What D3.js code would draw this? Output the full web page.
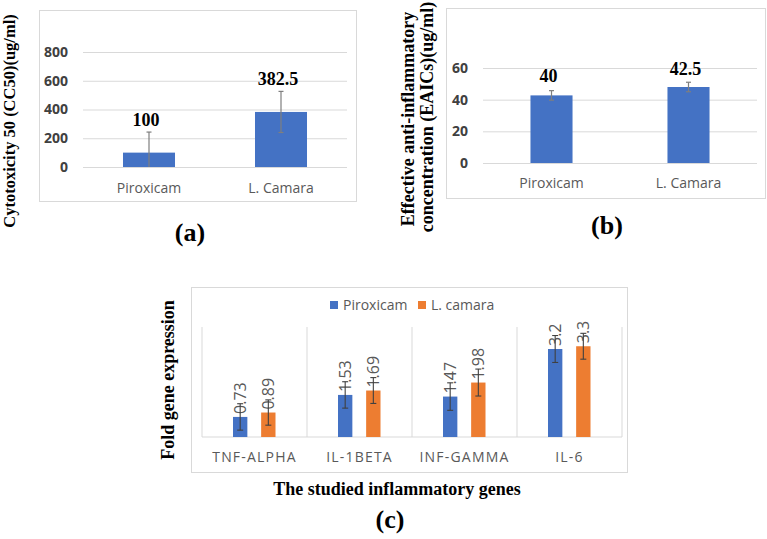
<!DOCTYPE html>
<html><head><meta charset="utf-8">
<script src="https://cdn.jsdelivr.net/npm/d3@7"></script>
<style>body{margin:0;background:#fff}svg{display:block}</style>
</head><body>
<svg id="c" width="767" height="539"></svg>
<script>
// ---- Data ----
const catsAB = ["Piroxicam", "L. Camara"];
const cc50Values = [100, 383];
const cc50Errors = [143, 143];
const cc50Labels = ["100", "382.5"];
const cc50Ticks = [0, 200, 400, 600, 800];

const eaicValues = [42.7, 48];
const eaicErrors = [3, 3];
const eaicLabels = ["40", "42.5"];
const eaicTicks = [0, 20, 40, 60];

const genes = ["TNF-ALPHA", "IL-1BETA", "INF-GAMMA", "IL-6"];
const seriesNames = ["Piroxicam", "L. camara"];
const piroxicamFold = [0.73, 1.53, 1.47, 3.2];
const camaraFold = [0.89, 1.69, 1.98, 3.3];
const piroxicamErr = [0.48, 0.48, 0.5, 0.49];
const camaraErr = [0.46, 0.47, 0.49, 0.47];
const foldLabelsP = ["0.73", "1.53", "1.47", "3.2"];
const foldLabelsC = ["0.89", "1.69", "1.98", "3.3"];

const BLUE = "#4472C4", ORANGE = "#ED7D31", GRID = "#d9d9d9", TXT = "#595959";
const SERIF = "'Liberation Serif','Times New Roman',serif";
const SANS = "'Open Sans','Segoe UI',sans-serif";

const svg = d3.select("#c");

function simplePanel(o) {
  const g = svg.append("g");
  g.append("rect").attr("x", o.box[0]).attr("y", o.box[1]).attr("width", o.box[2]).attr("height", o.box[3])
    .attr("fill", "#fff").attr("stroke", GRID).attr("stroke-width", 1);
  const x = d3.scaleBand().domain(o.cats).range([o.x0, o.x1]);
  const y = d3.scaleLinear().domain([0, o.ticks[o.ticks.length - 1]]).range([o.y0, o.y1]);
  const ax = g.append("g").attr("transform", `translate(${o.x0},0)`)
    .call(d3.axisLeft(y).tickValues(o.ticks).tickSize(-(o.x1 - o.x0)).tickPadding(15));
  ax.select(".domain").remove();
  ax.selectAll(".tick line").attr("stroke", GRID);
  ax.selectAll(".tick text").attr("font-family", SANS).attr("font-size", 14).attr("font-weight", 700).attr("fill", "#404040");
  const bw = x.bandwidth() * o.barFrac;
  const cx = d => x(d) + x.bandwidth() / 2;
  g.selectAll(".bar").data(o.cats).join("rect")
    .attr("x", d => cx(d) - bw / 2).attr("width", bw)
    .attr("y", (d, i) => y(o.values[i])).attr("height", (d, i) => y(0) - y(o.values[i]))
    .attr("fill", BLUE);
  o.cats.forEach((d, i) => {
    const hi = y(o.values[i] + o.errors[i]), lo = y(Math.max(0, o.values[i] - o.errors[i]));
    g.append("line").attr("x1", cx(d)).attr("x2", cx(d)).attr("y1", hi).attr("y2", lo).attr("stroke", "#7f7f7f").attr("stroke-width", 1.2);
    g.append("line").attr("x1", cx(d) - 2.5).attr("x2", cx(d) + 2.5).attr("y1", hi).attr("y2", hi).attr("stroke", "#7f7f7f").attr("stroke-width", 1.2);
    if (o.values[i] - o.errors[i] > 0)
      g.append("line").attr("x1", cx(d) - 2.5).attr("x2", cx(d) + 2.5).attr("y1", lo).attr("y2", lo).attr("stroke", "#7f7f7f").attr("stroke-width", 1.2);
    g.append("text").attr("x", cx(d) - 3).attr("y", hi - o.labelGap[i]).attr("text-anchor", "middle")
      .attr("font-family", SERIF).attr("font-weight", 700).attr("font-size", 18).attr("fill", "#000").text(o.labels[i]);
    g.append("text").attr("x", cx(d)).attr("y", y(0) + o.catOff).attr("text-anchor", "middle")
      .attr("font-family", SANS).attr("font-size", 14).attr("fill", TXT).text(d);
  });
  o.title.forEach((t, k) => {
    g.append("text").attr("transform", `translate(${o.titleX[k]},${o.titleY[k]}) rotate(-90)`).attr("text-anchor", "middle")
      .attr("font-family", SERIF).attr("font-weight", 700).attr("font-size", o.titleSize).attr("fill", "#000").text(t);
  });
  g.append("text").attr("x", o.tag[0]).attr("y", o.tag[1]).attr("text-anchor", "middle")
    .attr("font-family", SERIF).attr("font-weight", 700).attr("font-size", 26).attr("fill", "#000").text(o.tag[2]);
}

simplePanel({
  box: [39.5, 10.5, 317, 191], cats: catsAB, values: cc50Values, errors: cc50Errors, labels: cc50Labels, ticks: cc50Ticks,
  x0: 83, x1: 347, y0: 167, y1: 52, barFrac: 0.394, labelGap: [6, 6], catOff: 26, titleSize: 16.5,
  title: ["Cytotoxicity 50 (CC50)(ug/ml)"], titleX: [15], titleY: [121], tag: [190, 241, "(a)"]
});
simplePanel({
  box: [446.5, 8.5, 319, 190], cats: catsAB, values: eaicValues, errors: eaicErrors, labels: eaicLabels, ticks: eaicTicks,
  x0: 483, x1: 757, y0: 163, y1: 68, barFrac: 0.307, labelGap: [9, 7], catOff: 25, titleSize: 18,
  title: ["Effective anti-inflammatory", "concentration (EAICs)(ug/ml)"], titleX: [414, 433], titleY: [119, 117], tag: [607, 234, "(b)"]
});

// ---- Panel (c) ----
(function () {
  const g = svg.append("g");
  g.append("rect").attr("x", 191.5).attr("y", 287.5).attr("width", 436).attr("height", 185)
    .attr("fill", "#fff").attr("stroke", GRID);
  const x0 = d3.scaleBand().domain(genes).range([202, 622]);
  const x1 = d3.scaleBand().domain(seriesNames).range([31, 73.5]).paddingInner(0.49);
  const y = d3.scaleLinear().domain([0, 4]).range([437, 327]);
  const bandEdges = genes.map(d => x0(d)).concat([x0.range()[1]]);
  g.selectAll(".sep").data(bandEdges).join("line")
    .attr("x1", d => d).attr("x2", d => d).attr("y1", y(4)).attr("y2", y(0)).attr("stroke", GRID);
  g.append("line").attr("x1", 202).attr("x2", 622).attr("y1", y(0)).attr("y2", y(0)).attr("stroke", GRID);
  const series = [
    { name: seriesNames[0], vals: piroxicamFold, errs: piroxicamErr, labs: foldLabelsP, color: BLUE },
    { name: seriesNames[1], vals: camaraFold, errs: camaraErr, labs: foldLabelsC, color: ORANGE }
  ];
  series.forEach(s => {
    genes.forEach((gname, i) => {
      const bx = x0(gname) + x1(s.name), bw = x1.bandwidth(), cx = bx + bw / 2;
      g.append("rect").attr("x", bx).attr("width", bw).attr("y", y(s.vals[i])).attr("height", y(0) - y(s.vals[i])).attr("fill", s.color);
      g.append("text").attr("transform", `translate(${cx},${y(s.vals[i]) - 3}) rotate(-90)`)
        .attr("dy", "0.35em").attr("font-family", SANS).attr("font-size", 16).attr("fill", TXT).text(s.labs[i]);
      const hi = y(s.vals[i] + s.errs[i]), lo = y(s.vals[i] - s.errs[i]);
      g.append("line").attr("x1", cx).attr("x2", cx).attr("y1", hi).attr("y2", lo).attr("stroke", "#404040").attr("stroke-width", 1.1);
      [hi, lo].forEach(yy => g.append("line").attr("x1", cx - 3).attr("x2", cx + 3).attr("y1", yy).attr("y2", yy).attr("stroke", "#404040").attr("stroke-width", 1.1));
    });
  });
  genes.forEach(gname => {
    g.append("text").attr("x", x0(gname) + x0.bandwidth() / 2).attr("y", 462).attr("text-anchor", "middle")
      .attr("font-family", SANS).attr("font-size", 14).attr("letter-spacing", "1.2px").attr("fill", TXT).text(gname);
  });
  // legend
  const legX = [330, 418];
  series.forEach((s, k) => {
    g.append("rect").attr("x", legX[k]).attr("y", 301).attr("width", 8).attr("height", 8).attr("fill", s.color);
    g.append("text").attr("x", legX[k] + 13).attr("y", 310).attr("font-family", SANS).attr("font-size", 14).attr("fill", TXT).text(s.name);
  });
  g.append("text").attr("transform", "translate(174,380) rotate(-90)").attr("text-anchor", "middle")
    .attr("font-family", SERIF).attr("font-weight", 700).attr("font-size", 18).text("Fold gene expression");
  g.append("text").attr("x", 397).attr("y", 495).attr("text-anchor", "middle")
    .attr("font-family", SERIF).attr("font-weight", 700).attr("font-size", 18).text("The studied inflammatory genes");
  g.append("text").attr("x", 390).attr("y", 528).attr("text-anchor", "middle")
    .attr("font-family", SERIF).attr("font-weight", 700).attr("font-size", 26).text("(c)");
})();
</script>
</body></html>
